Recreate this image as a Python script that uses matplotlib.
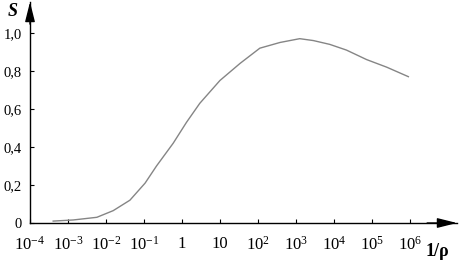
import matplotlib
matplotlib.use('Agg')
import matplotlib.pyplot as plt
import numpy as np

# curve (x = 1/rho, y = S)
log_inv_rho = [-3.39, -2.86, -2.24, -1.81, -1.37, -0.97, -0.67, -0.23, 0.12, 0.47,
               1.0, 1.53, 2.05, 2.58, 3.1, 3.46, 3.89, 4.33, 4.86, 5.39, 5.96]
s_values = [0.010, 0.016, 0.030, 0.065, 0.12, 0.21, 0.30, 0.42, 0.53, 0.63,
            0.75, 0.84, 0.92, 0.95, 0.97, 0.96, 0.94, 0.91, 0.86, 0.82, 0.77]

x_tick_exps = [-4, -3, -2, -1, 0, 1, 2, 3, 4, 5, 6]
x_tick_labels = ['$10^{-4}$', '$10^{-3}$', '$10^{-2}$', '$10^{-1}$', '1', '10',
                 '$10^{2}$', '$10^{3}$', '$10^{4}$', '$10^{5}$', '$10^{6}$']
y_ticks = [0, 0.2, 0.4, 0.6, 0.8, 1.0]
y_tick_labels = ['0', '0,2', '0,4', '0,6', '0,8', '1,0']

plt.rcParams['font.family'] = ['Liberation Serif', 'DejaVu Serif']
plt.rcParams['mathtext.fontset'] = 'custom'
plt.rcParams['mathtext.rm'] = 'Liberation Serif'
plt.rcParams['mathtext.it'] = 'Liberation Serif:italic'

W, H = 462, 264
fig = plt.figure(figsize=(W / 100, H / 100), dpi=100)
ax = fig.add_axes([30 / W, (H - 223) / H, 427 / W, 221 / H])

x = np.power(10.0, log_inv_rho)
ax.plot(x, s_values, color='#858585', lw=1.0)

ax.set_xscale('log')
ax.set_xlim(1e-4, 10 ** 7.24)
ax.set_ylim(0, 1.163)
ax.minorticks_off()
ax.set_xticks([10.0 ** e for e in x_tick_exps])
ax.set_xticklabels(x_tick_labels, fontsize=12)
ax.set_yticks(y_ticks)
ax.set_yticklabels(y_tick_labels, fontsize=10.5)
ax.tick_params(direction='in', length=3, width=0.8, color='black')
ax.tick_params(axis='x', pad=9)
ax.tick_params(axis='y', pad=6)

for side in ('top', 'right'):
    ax.spines[side].set_visible(False)
for side in ('left', 'bottom'):
    ax.spines[side].set_linewidth(1.0)

# arrow heads on both axes
ax.annotate('', xy=(1.0, 0), xytext=(0.93, 0), xycoords='axes fraction',
            arrowprops=dict(arrowstyle='-|>,head_length=1.2,head_width=0.3',
                            color='black', lw=1.0, shrinkA=0, shrinkB=0))
ax.annotate('', xy=(0, 1.0), xytext=(0, 0.9), xycoords='axes fraction',
            arrowprops=dict(arrowstyle='-|>,head_length=1.2,head_width=0.3',
                            color='black', lw=1.0, shrinkA=0, shrinkB=0))

fig.text(8 / W, 1 - 12 / H, 'S', fontsize=13, fontstyle='italic', fontweight='bold',
         ha='left', va='center')
fig.text(437 / W, 1 - 252 / H, '1/ρ', fontsize=13, fontweight='bold',
         ha='center', va='center')

fig.savefig('out.png', dpi=100)
